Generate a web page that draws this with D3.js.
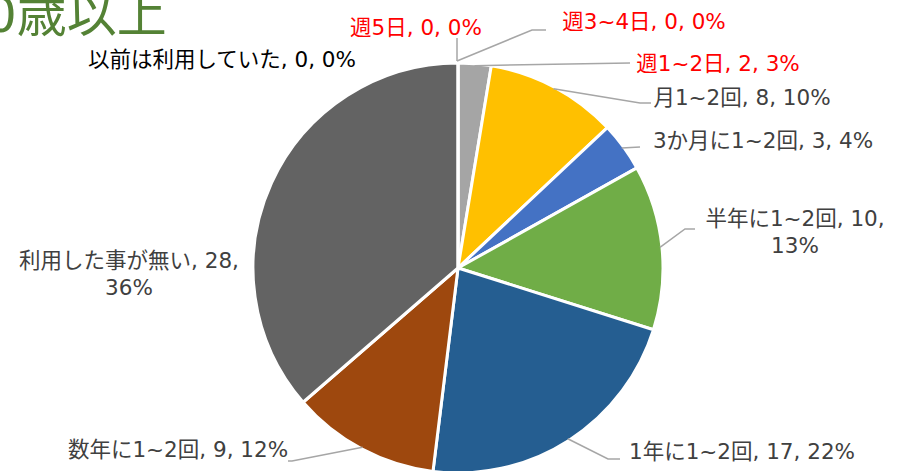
<html>
<head>
<meta charset="utf-8">
<style>
  body { margin: 0; background: #fff; }
  text { font-family: "DejaVu Sans", "Noto Sans CJK JP", sans-serif; }
</style>
</head>
<body>
<div id="chart"></div>
<script src="https://d3js.org/d3.v7.min.js"></script>
<script>
  // data
  var categories = ["週5日", "週3~4日", "週1~2日", "月1~2回", "3か月に1~2回", "半年に1~2回", "1年に1~2回", "数年に1~2回", "利用した事が無い", "以前は利用していた"];
  var values = [0, 0, 2, 8, 3, 10, 17, 9, 28, 0];
  var percents = ["0%", "0%", "3%", "10%", "4%", "13%", "22%", "12%", "36%", "0%"];
  var colors = ["#4472c4", "#ed7d31", "#a5a5a5", "#ffc000", "#4472c4", "#70ad47", "#255e91", "#9e480e", "#636363", "#997300"];
  var labelColors = ["#ff0000", "#ff0000", "#ff0000", "#404040", "#404040", "#404040", "#404040", "#404040", "#404040", "#000000"];

  // label layout: text centre, line wrap, leader elbow
  var labelLayout = [
    { x: 416, y: 35, lines: 1, leader: [[457, 38]] },
    { x: 644, y: 29, lines: 1, leader: [[532, 30], [546, 30]] },
    { x: 718, y: 71, lines: 1, leader: [[630, 63], [630, 63]] },
    { x: 742, y: 105, lines: 1, leader: [[640, 103], [651, 103]] },
    { x: 763, y: 148, lines: 1, leader: [[640, 147], [640, 147]] },
    { x: 795, y: 226, lines: 2, leader: [[685, 229], [695, 229]] },
    { x: 742, y: 459, lines: 1, leader: [[608, 459], [620, 459]] },
    { x: 178, y: 457, lines: 1, leader: [[292, 461], [288, 461]] },
    { x: 129, y: 268, lines: 2, leader: null },
    { x: 222, y: 67, lines: 1, leader: null }
  ];

  var W = 909, H = 471;
  var cx = 458, cy = 268, R = 205;

  var svg = d3.select("#chart")
    .append("svg")
    .attr("width", W)
    .attr("height", H);

  // title (cut off at the left edge, as in the source)
  svg.append("text")
    .attr("x", -15)
    .attr("y", 32)
    .attr("font-size", 50)
    .attr("font-family", "Noto Sans CJK JP")
    .attr("fill", "#548235")
    .text("0歳以上");

  var pie = d3.pie().sort(null).value(function (d) { return d; });
  var arcs = pie(values);
  var arc = d3.arc().innerRadius(0).outerRadius(R);

  var g = svg.append("g").attr("transform", "translate(" + cx + "," + cy + ")");

  g.selectAll("path.slice")
    .data(arcs)
    .enter()
    .append("path")
    .attr("class", "slice")
    .attr("d", arc)
    .attr("fill", function (d, i) { return colors[i]; })
    .attr("stroke", "#fff")
    .attr("stroke-width", 3)
    .attr("stroke-linejoin", "round");

  // leader lines
  arcs.forEach(function (d, i) {
    var L = labelLayout[i];
    if (!L.leader) return;
    var mid = (d.startAngle + d.endAngle) / 2;
    var px = cx + Math.sin(mid) * (R - 2);
    var py = cy - Math.cos(mid) * (R - 2);
    if (d.value === 0) { px = cx - 1; py = cy - R - 2; }
    var pts = [[px, py]].concat(L.leader);
    svg.append("path")
      .attr("d", d3.line()(pts))
      .attr("fill", "none")
      .attr("stroke", "#a6a6a6")
      .attr("stroke-width", 1.5);
  });

  // labels
  arcs.forEach(function (d, i) {
    var L = labelLayout[i];
    var t = svg.append("text")
      .attr("x", L.x)
      .attr("y", L.y)
      .attr("text-anchor", "middle")
      .attr("font-size", 21.5)
      .attr("fill", labelColors[i]);
    if (L.lines === 2) {
      t.append("tspan").attr("x", L.x).text(categories[i] + ", " + values[i] + ",");
      t.append("tspan").attr("x", L.x).attr("dy", 27).text(percents[i]);
    } else {
      t.text(categories[i] + ", " + values[i] + ", " + percents[i]);
    }
  });
</script>
</body>
</html>
